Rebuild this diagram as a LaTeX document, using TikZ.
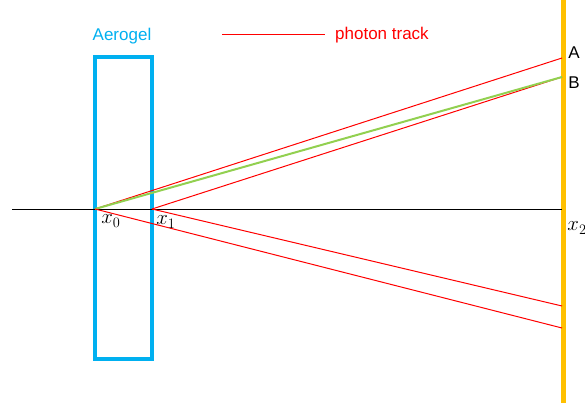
\documentclass[tikz,border=0pt]{standalone}
\usepackage{fontspec}
\setmainfont{Liberation Sans}
\definecolor{aerocyan}{RGB}{0,176,240}
\definecolor{detyellow}{RGB}{255,192,0}
\definecolor{trackgreen}{RGB}{146,208,80}

\begin{document}
\begin{tikzpicture}[x=1pt,y=-1pt,
  track/.style={draw,red,line width=1pt},
  lbl/.style={inner sep=0pt,font=\fontsize{17}{20}\selectfont},
  xlbl/.style={inner sep=0pt,font=\fontsize{21}{24}\selectfont}]
\useasboundingbox (0,0) rectangle (585,403);

\draw[detyellow,line width=5pt] (563,0) -- (563,403);
\draw[aerocyan,line width=4pt] (95,57) rectangle (152,359);
\node[lbl,text=aerocyan] (aero) at (122,36) {Aerogel};

\coordinate (start) at (12,209);
\coordinate (end) at (562,209);
\draw[line width=0.8pt] (start) -- (end);

\coordinate (p0) at (95,209);
\coordinate (p1) at (152,209);
\coordinate (a) at (562,58);
\coordinate (b) at (562,77);
\coordinate (c) at (562,306);
\coordinate (d) at (562,328);

\path[track] (p0) -- (a);
\path[track] (p1) -- (b);
\path[draw,trackgreen,line width=2pt] (p0) -- (b);
\path[track] (p1) -- (c);
\path[track] (p0) -- (d);

\node[lbl] (la) at (574,53) {A};
\node[lbl] (lb) at (574,83) {B};
\node[xlbl] (x0) at (111,221) {$x_0$};
\node[xlbl] (x1) at (166,222) {$x_1$};
\node[xlbl] (x2) at (577,228) {$x_2$};

\coordinate (l1) at (222,35);
\coordinate (l2) at (325,35);
\path[track] (l1) -- (l2);
\node[lbl,text=red,anchor=west] (leg) at (335,35) {photon track};
\end{tikzpicture}
\end{document}
